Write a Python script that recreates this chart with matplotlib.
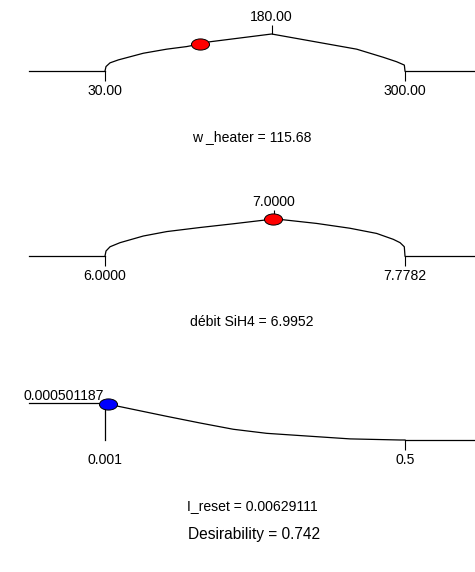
import matplotlib
matplotlib.use("Agg")
import matplotlib.pyplot as plt
from matplotlib.path import Path
from matplotlib.transforms import Affine2D

plt.rcParams["font.family"] = ["Liberation Sans", "DejaVu Sans"]

# factors, ranges and current settings
factors = ["w _heater", "débit SiH4", "I_reset"]
lows = [30.0, 6.0, 0.001]
highs = [300.0, 7.7782, 0.5]
low_labels = ["30.00", "6.0000", "0.001"]
high_labels = ["300.00", "7.7782", "0.5"]
peak_x = [180.0, 7.0, None]
peak_labels = ["180.00", "7.0000", "0.000501187"]
settings = [115.68, 6.9952, 0.00629111]
setting_labels = ["115.68", "6.9952", "0.00629111"]
setting_y = [0.73, 1.0, 0.98]
marker_colors = ["#ff0000", "#ff0000", "#0000ff"]
desirability = 0.742

# profiles (height normalised to the panel peak)
heater_x = [30, 30.9, 34.5, 42, 64.5, 85.5, 103.5, 115.5, 124.5, 180,
            256.5, 280.5, 292.5, 299.4, 300]
heater_y = [0, 0.12, 0.22, 0.30, 0.48, 0.59, 0.66, 0.73, 0.79, 1.0,
            0.59, 0.37, 0.25, 0.16, 0]
sih4_x = [6.0, 6.006, 6.030, 6.089, 6.227, 6.366, 6.563, 6.759, 7.0, 7.055,
          7.255, 7.452, 7.610, 7.709, 7.749, 7.774, 7.7782]
sih4_y = [0, 0.135, 0.25, 0.36, 0.54, 0.66, 0.77, 0.87, 1.0, 0.98,
          0.88, 0.75, 0.61, 0.45, 0.36, 0.25, 0]
ireset_x = [0.001, 0.0205, 0.1036, 0.159, 0.2144, 0.270, 0.353, 0.4085, 0.4917, 0.5]
ireset_y = [1.0, 0.92, 0.64, 0.46, 0.29, 0.18, 0.09, 0.03, 0.0, 0.0]
profiles = [(heater_x, heater_y), (sih4_x, sih4_y), (ireset_x, ireset_y)]

W, H = 475, 572
fig = plt.figure(figsize=(W / 100, H / 100), dpi=100)

ax_left, ax_right = 29, 475     # pixel extent of each profile strip
lo_px, hi_px = 105, 405         # where the factor range sits
base_px = [71, 256, 440]
prof_h = 37
fs = 10.1

ellipse = Path.unit_circle().transformed(Affine2D().scale(1.0, 0.62))

for i in range(3):
    lo, hi = lows[i], highs[i]
    per_px = (hi - lo) / (hi_px - lo_px)
    x0 = lo - (lo_px - ax_left) * per_px
    x1 = hi + (ax_right - hi_px) * per_px
    ax = fig.add_axes([ax_left / W, 1 - base_px[i] / H,
                       (ax_right - ax_left) / W, prof_h / H])
    ax.set_xlim(x0, x1)
    ax.set_ylim(0, 1)
    for s in ax.spines.values():
        s.set_visible(False)
    ax.set_yticks([])

    xs, ys = profiles[i]
    kw = dict(color="black", lw=0.9, clip_on=False)
    ax.plot(xs, ys, **kw)
    ax.plot([x0, lo], [ys[0], ys[0]], **kw)
    ax.plot([hi, x1], [ys[-1], ys[-1]], **kw)
    if ys[0] > 0:
        ax.plot([lo, lo], [ys[0], 0], **kw)

    ax.set_xticks([lo, hi], [low_labels[i], high_labels[i]])
    ax.tick_params(axis="x", direction="out", length=7.2, width=0.8,
                   pad=2, labelsize=fs)
    if ys[0] > 0:
        ax.xaxis.get_major_ticks()[0].tick1line.set_visible(False)

    if peak_x[i] is not None:
        sec = ax.secondary_xaxis("top")
        sec.spines["top"].set_visible(False)
        sec.set_xticks([peak_x[i]], [peak_labels[i]])
        sec.tick_params(direction="out", length=6.5, width=0.8, pad=1, labelsize=fs)
    else:
        ax.annotate(peak_labels[i], xy=(lo, ys[0]), xytext=(-0.7, 2),
                    textcoords="offset points", ha="right", va="baseline",
                    fontsize=fs, annotation_clip=False)

    ax.plot([settings[i]], [setting_y[i]], marker=ellipse, ms=13,
            mfc=marker_colors[i], mec="black", mew=0.7, ls="none",
            clip_on=False, zorder=5)

    ax.annotate(f"{factors[i]} = {setting_labels[i]}", xy=(0.5, 0),
                xycoords="axes fraction", xytext=(0, -47.5),
                textcoords="offset points", ha="center", va="center",
                fontsize=fs, annotation_clip=False)

fig.text(254 / W, 1 - 535 / H, f"Desirability = {desirability}",
         ha="center", va="center", fontsize=11.2)

fig.savefig("out.png", dpi=100)
